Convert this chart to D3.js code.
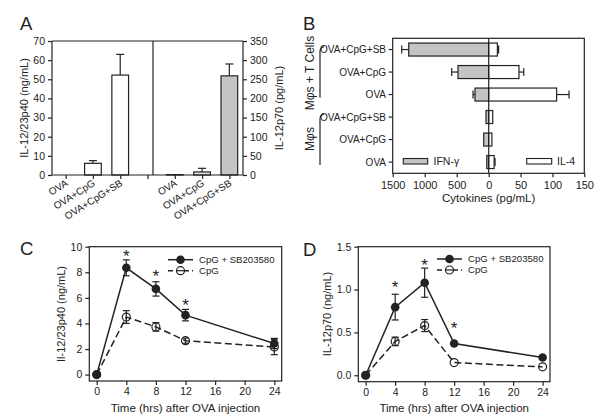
<!DOCTYPE html>
<html><head><meta charset="utf-8">
<script src="https://cdn.jsdelivr.net/npm/d3@7/dist/d3.min.js"></script>
<style>body{margin:0;background:#fff}svg{display:block}text{font-family:"Liberation Sans",Arial,sans-serif;fill:#222}</style>
</head><body><svg id="c" width="601" height="417"></svg>
<script>
// ---------- Panel A data ----------
const aCats = ["OVA","OVA+CpG","OVA+CpG+SB"];
const aP40 = [0, 6.1, 52.2];       // ng/mL
const aP40Err = [0, 1.4, 10.8];
const aP70 = [1, 8, 259];          // pg/mL
const aP70Err = [0, 9.5, 31];
const aLeftTicks = [0,10,20,30,40,50,60,70];
const aRightTicks = [0,50,100,150,200,250,300,350];
// ---------- Panel B data ----------
const bRows = ["OVA+CpG+SB","OVA+CpG","OVA","OVA+CpG+SB","OVA+CpG","OVA"];
const bIFN = [1250, 480, 214, 42, 78, 30];
const bIFNErr = [109, 98, 31, 0, 0, 0];
const bIL4 = [13.6, 47.5, 106.6, 6.3, 5, 8.5];
const bIL4Err = [2, 7.5, 19.5, 0, 0, 1.5];
const bLeftTicks = [1500,1000,500,0];
const bRightTicks = [50,100,150];
const bGroups = ["Mφs + T Cells","Mφs"];
// ---------- Panel C/D data ----------
const times = [0,4,8,12,24];
const timeTicks = [0,4,8,12,16,20,24];
const cSB = [0, 8.35, 6.7, 4.65, 2.43];
const cSBErr = [0, 0.62, 0.56, 0.45, 0.4];
const cCpG = [0, 4.5, 3.73, 2.65, 2.16];
const cCpGErr = [0, 0.5, 0.33, 0.2, 0.6];
const cStars = [[4,9.48],[8,7.92],[12,5.69]];
const cTicks = [0,2,4,6,8,10];
const dSB = [0, 0.795, 1.08, 0.37, 0.207];
const dSBErr = [0, 0.15, 0.17, 0, 0];
const dCpG = [0, 0.395, 0.58, 0.148, 0.098];
const dCpGErr = [0, 0.05, 0.07, 0, 0];
const dStars = [[4,1.07],[8,1.32],[12,0.59]];
const dTicks = [0,0.5,1.0,1.5];
const legendNames = ["CpG + SB203580","CpG"];

const svg = d3.select("#c");
const STROKE = "#222";
const GREY = "#c4c4c4";
const TF = 10.5;
const FF = "Liberation Sans, Arial, sans-serif";

function panelLetter(t,x,y){svg.append("text").attr("x",x).attr("y",y).attr("font-size",18.5).text(t);}
function vlabel(t,x,y,fs){svg.append("text").attr("transform",`translate(${x},${y}) rotate(-90)`).attr("text-anchor","middle").attr("dy","0.35em").attr("font-size",fs).text(t);}
function styleAxis(a){a.selectAll("line,path").attr("stroke",STROKE).attr("stroke-width",1.2);a.selectAll("text").attr("font-size",TF).attr("fill","#222").attr("font-family",FF);}

// ================= Panel A =================
panelLetter("A",20,30);
const xA = d3.scaleLinear().domain([-0.5,6.5]).range([52,243]);
const yL = d3.scaleLinear().domain([0,70]).range([175,41]);
const yR = d3.scaleLinear().domain([0,350]).range([175,41]);
const gA = svg.append("g");
gA.append("line").attr("x1",52).attr("x2",243).attr("y1",41).attr("y2",41).attr("stroke",STROKE).attr("stroke-width",1.2);
gA.append("line").attr("x1",153).attr("x2",153).attr("y1",41).attr("y2",175).attr("stroke",STROKE).attr("stroke-width",1.2);
const bw = 16.7;
function barsA(vals, errs, offset, yS, fills){
  vals.forEach((v,i)=>{
    const cx = xA(i+offset);
    if(errs[i]>0){
      gA.append("line").attr("x1",cx).attr("x2",cx).attr("y1",yS(v)).attr("y2",yS(v+errs[i])).attr("stroke",STROKE).attr("stroke-width",1.2);
      gA.append("line").attr("x1",cx-4).attr("x2",cx+4).attr("y1",yS(v+errs[i])).attr("y2",yS(v+errs[i])).attr("stroke",STROKE).attr("stroke-width",1.2);
    }
    gA.append("rect").attr("x",cx-bw/2).attr("width",bw).attr("y",yS(v)).attr("height",yS(0)-yS(v))
      .attr("fill",fills[i]).attr("stroke",STROKE).attr("stroke-width",1.2);
  });
}
barsA(aP40,aP40Err,0,yL,["#fff","#fff","#fff"]);
barsA(aP70,aP70Err,4,yR,[GREY,"#e4e4e4",GREY]);
const axAL = gA.append("g").attr("transform","translate(52,0)").call(d3.axisLeft(yL).tickValues(aLeftTicks).tickSize(4).tickPadding(3));
const axAR = gA.append("g").attr("transform","translate(243,0)").call(d3.axisRight(yR).tickValues(aRightTicks).tickSize(4).tickPadding(3));
const axAB = gA.append("g").attr("transform","translate(0,175)").call(d3.axisBottom(xA).tickValues([0,1,2,3,4,5,6]).tickSize(4).tickFormat(""));
[axAL,axAR,axAB].forEach(styleAxis);
axAB.select("path").attr("d","M52,0H243");
axAL.select("path").attr("d","M0,41V175");
axAR.select("path").attr("d","M0,41V175");
[0,1,2,4,5,6].forEach(i=>{
  const lbl = aCats[i<3?i:i-4];
  svg.append("text").attr("transform",`translate(${xA(i)+3},${185}) rotate(-32)`).attr("text-anchor","end").attr("font-size",10).text(lbl);
});
vlabel("IL-12/23p40 (ng/mL)",24,108,11);
vlabel("IL-12p70 (pg/mL)",279,108,11);

// ================= Panel B =================
panelLetter("B",303,30);
const x0 = 488.7;
const xBL = d3.scaleLinear().domain([1500,0]).range([392.7,x0]);
const xBR = d3.scaleLinear().domain([0,150]).range([x0,584.3]);
const yB = d3.scaleBand().domain(d3.range(6)).range([38.3,173.3]);
const gB = svg.append("g");
gB.append("rect").attr("x",392.7).attr("y",38.3).attr("width",584.3-392.7).attr("height",173.3-38.3).attr("fill","none").attr("stroke",STROKE).attr("stroke-width",1.2);
const bh = 13;
d3.range(6).forEach(i=>{
  const cy = yB(i)+yB.bandwidth()/2;
  if(bIFNErr[i]>0){
    const xe = xBL(bIFN[i]+bIFNErr[i]);
    gB.append("line").attr("x1",xBL(bIFN[i])).attr("x2",xe).attr("y1",cy).attr("y2",cy).attr("stroke",STROKE).attr("stroke-width",1.2);
    gB.append("line").attr("x1",xe).attr("x2",xe).attr("y1",cy-4).attr("y2",cy+4).attr("stroke",STROKE).attr("stroke-width",1.2);
  }
  if(bIL4Err[i]>0){
    const xe = xBR(bIL4[i]+bIL4Err[i]);
    gB.append("line").attr("x1",xBR(bIL4[i])).attr("x2",xe).attr("y1",cy).attr("y2",cy).attr("stroke",STROKE).attr("stroke-width",1.2);
    gB.append("line").attr("x1",xe).attr("x2",xe).attr("y1",cy-4).attr("y2",cy+4).attr("stroke",STROKE).attr("stroke-width",1.2);
  }
  gB.append("rect").attr("x",xBL(bIFN[i])).attr("width",x0-xBL(bIFN[i])).attr("y",cy-bh/2).attr("height",bh).attr("fill",GREY).attr("stroke",STROKE).attr("stroke-width",1.2);
  gB.append("rect").attr("x",x0).attr("width",xBR(bIL4[i])-x0).attr("y",cy-bh/2).attr("height",bh).attr("fill","#fff").attr("stroke",STROKE).attr("stroke-width",1.2);
  gB.append("line").attr("x1",392.7-4).attr("x2",392.7).attr("y1",cy).attr("y2",cy).attr("stroke",STROKE).attr("stroke-width",1.2);
  gB.append("text").attr("x",386).attr("y",cy).attr("dy","0.35em").attr("text-anchor","end").attr("font-size",10).text(bRows[i]);
});
gB.append("line").attr("x1",x0).attr("x2",x0).attr("y1",38.3).attr("y2",173.3).attr("stroke",STROKE).attr("stroke-width",1.2);
const axBL = gB.append("g").attr("transform","translate(0,173.3)").call(d3.axisBottom(xBL).tickValues(bLeftTicks).tickSize(4).tickPadding(4).tickFormat(d3.format("d")));
const axBR = gB.append("g").attr("transform","translate(0,173.3)").call(d3.axisBottom(xBR).tickValues(bRightTicks).tickSize(4).tickPadding(4).tickFormat(d3.format("d")));
[axBL,axBR].forEach(a=>{a.select("path").remove();styleAxis(a);a.selectAll("text").attr("font-size",11);});
svg.append("text").attr("x",x0).attr("y",202).attr("text-anchor","middle").attr("font-size",11.5).text("Cytokines (pg/mL)");
// legend
gB.append("rect").attr("x",403.3).attr("y",158.5).attr("width",24.4).attr("height",5.5).attr("fill",GREY).attr("stroke",STROKE).attr("stroke-width",1.1);
gB.append("text").attr("x",433.5).attr("y",161.2).attr("dy","0.35em").attr("font-size",10.5).text("IFN-γ");
gB.append("rect").attr("x",526.7).attr("y",158.5).attr("width",25).attr("height",5.5).attr("fill","#fff").attr("stroke",STROKE).attr("stroke-width",1.1);
gB.append("text").attr("x",557).attr("y",161.2).attr("dy","0.35em").attr("font-size",10.5).text("IL-4");
// group brackets
[[0,2],[3,5]].forEach(([a,b])=>{
  const y1 = yB(a)+yB.bandwidth()/2, y2 = yB(b)+yB.bandwidth()/2+3;
  svg.append("path").attr("d",`M324,${y1-3} Q320,${y1-2} 320,${y1+2} L320,${y2}`).attr("fill","none").attr("stroke",STROKE).attr("stroke-width",1.2);
});
vlabel(bGroups[0],309.5,73,12);
vlabel(bGroups[1],309.5,139,12);

// ================= Panels C & D =================
function linePanel(opt){
  const x = d3.scaleLinear().domain([-1,25]).range([opt.left,opt.right]);
  const y = d3.scaleLinear().domain([-0.05*opt.ymax,opt.ymax]).range([opt.bottom,opt.top]);
  const g = svg.append("g");
  g.append("rect").attr("x",opt.left).attr("y",opt.top).attr("width",opt.right-opt.left).attr("height",opt.bottom-opt.top).attr("fill","none").attr("stroke",STROKE).attr("stroke-width",1.2);
  const ax = g.append("g").attr("transform",`translate(0,${opt.bottom})`).call(d3.axisBottom(x).tickValues(timeTicks).tickSize(4).tickPadding(3));
  const ay = g.append("g").attr("transform",`translate(${opt.left},0)`).call(d3.axisLeft(y).tickValues(opt.ticks).tickSize(4).tickPadding(3).tickFormat(opt.fmt));
  [ax,ay].forEach(a=>{a.select("path").remove();styleAxis(a);});
  const line = d3.line().x((d,i)=>x(times[i])).y(d=>y(d));
  g.append("path").attr("d",line(opt.cpg)).attr("fill","none").attr("stroke",STROKE).attr("stroke-width",1.5).attr("stroke-dasharray","7,3.5");
  g.append("path").attr("d",line(opt.sb)).attr("fill","none").attr("stroke",STROKE).attr("stroke-width",1.5);
  function errs(vals,es){
    vals.forEach((v,i)=>{
      if(es[i]<=0) return;
      const cx = x(times[i]);
      g.append("line").attr("x1",cx).attr("x2",cx).attr("y1",y(v-es[i])).attr("y2",y(v+es[i])).attr("stroke",STROKE).attr("stroke-width",1.2);
      [v-es[i],v+es[i]].forEach(e=>g.append("line").attr("x1",cx-3.5).attr("x2",cx+3.5).attr("y1",y(e)).attr("y2",y(e)).attr("stroke",STROKE).attr("stroke-width",1.2));
    });
  }
  errs(opt.cpg,opt.cpgErr);
  errs(opt.sb,opt.sbErr);
  opt.cpg.forEach((v,i)=>g.append("circle").attr("cx",x(times[i])).attr("cy",y(v)).attr("r",4).attr("fill","none").attr("stroke",STROKE).attr("stroke-width",1.2));
  opt.sb.forEach((v,i)=>g.append("circle").attr("cx",x(times[i])).attr("cy",y(v)).attr("r",4.3).attr("fill",STROKE));
  opt.stars.forEach(([t,v])=>g.append("text").attr("x",x(t)).attr("y",y(v)+9).attr("text-anchor","middle").attr("font-size",17).text("*"));
  // legend
  const L = opt.leg;
  [0,1].forEach(k=>{
    const ly = L.y + k*11;
    const ll = g.append("line").attr("x1",L.x).attr("x2",L.x+25).attr("y1",ly).attr("y2",ly).attr("stroke",STROKE).attr("stroke-width",1.5);
    if(k===1) ll.attr("stroke-dasharray","5,3");
    if(k===0) g.append("circle").attr("cx",L.x+12.5).attr("cy",ly).attr("r",4.3).attr("fill",STROKE);
    else g.append("circle").attr("cx",L.x+12.5).attr("cy",ly).attr("r",4).attr("fill","#fff").attr("stroke",STROKE).attr("stroke-width",1.2);
    if(k===1) g.append("line").attr("x1",L.x+8.5).attr("x2",L.x+16.5).attr("y1",ly).attr("y2",ly).attr("stroke",STROKE).attr("stroke-width",1.2);
    g.append("text").attr("x",L.x+31).attr("y",ly).attr("dy","0.35em").attr("font-size",9.6).text(legendNames[k]);
  });
  svg.append("text").attr("x",(opt.left+opt.right)/2).attr("y",412).attr("text-anchor","middle").attr("font-size",11.5).text("Time (hrs) after OVA injection");
  vlabel(opt.ylabel,opt.ylx,314,11);
}
panelLetter("C",20,255);
linePanel({left:89.3,right:281.7,top:246.7,bottom:381,ymax:10,ticks:cTicks,fmt:d3.format("d"),
  sb:cSB,sbErr:cSBErr,cpg:cCpG,cpgErr:cCpGErr,stars:cStars,leg:{x:168,y:259.7},ylabel:"Il-12/23p40 (ng/mL)",ylx:61});
panelLetter("D",303,256);
linePanel({left:358.3,right:550,top:246.7,bottom:381.7,ymax:1.5,ticks:dTicks,fmt:d3.format(".1f"),
  sb:dSB,sbErr:dSBErr,cpg:dCpG,cpgErr:dCpGErr,stars:dStars,leg:{x:437,y:259},ylabel:"IL-12p70 (ng/mL)",ylx:327.5});
</script></body></html>
